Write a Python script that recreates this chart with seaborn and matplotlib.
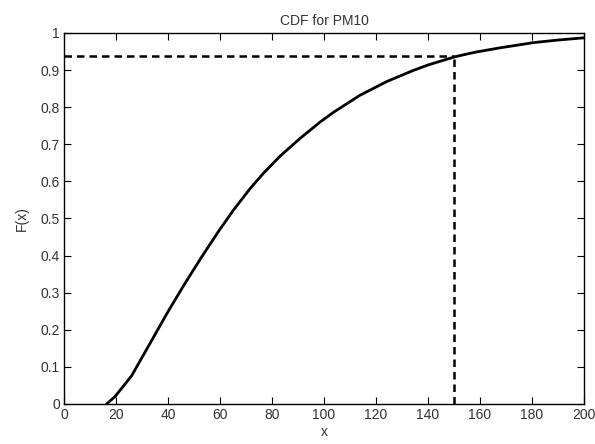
import matplotlib
matplotlib.use("Agg")
import matplotlib.pyplot as plt
import seaborn as sns
import pandas as pd

# valeurs
x_vals = [16.4, 19.6, 26.0, 32.4, 39.5, 45.9, 53.0, 59.4, 65.1, 71.5, 76.7, 83.1,
          90.8, 98.5, 103.6, 113.8, 124.1, 134.3, 140.1, 150.4, 158.0, 167.7, 180.5,
          190.0, 200.0]
cdf_vals = [0.0, 0.02, 0.076, 0.155, 0.243, 0.318, 0.397, 0.465, 0.522, 0.580, 0.622, 0.668,
            0.716, 0.760, 0.786, 0.832, 0.869, 0.899, 0.914, 0.936, 0.948, 0.960, 0.974,
            0.981, 0.987]
x_mark = 150
f_mark = 0.937

df = pd.DataFrame({"x": x_vals, "F": cdf_vals})

sns.set_style("ticks")
plt.rcParams["font.family"] = ["Liberation Sans", "DejaVu Sans"]
plt.rcParams["xtick.direction"] = "in"
plt.rcParams["ytick.direction"] = "in"

fig = plt.figure(figsize=(5.95, 4.44), dpi=100)
ax = fig.add_axes([0.1076, 0.0901, 0.8739, 0.8356])

sns.lineplot(data=df, x="x", y="F", color="black", linewidth=2, ax=ax)
ax.plot([0, x_mark], [f_mark, f_mark], color="black", linestyle=(0, (3, 2)), linewidth=1.8)
ax.plot([x_mark, x_mark], [0, f_mark], color="black", linestyle=(0, (3, 2)), linewidth=1.8)

ax.set_xlim(0, 200)
ax.set_ylim(0, 1)
ax.set_xticks(range(0, 201, 20))
ax.set_yticks([i / 10 for i in range(11)])
ax.set_yticklabels(["0"] + [f"{i/10:g}" for i in range(1, 10)] + ["1"])
ax.tick_params(axis="both", which="both", top=True, right=True, length=5,
               labelsize=10, colors="black", labelcolor="#333333", pad=3)
for s in ax.spines.values():
    s.set_linewidth(1)
    s.set_color("black")

ax.set_title("CDF for PM10", fontsize=10, color="#333333", pad=6)
ax.set_xlabel("x", fontsize=10, color="#333333", labelpad=2)
ax.set_ylabel("F(x)", fontsize=10, color="#333333", labelpad=8)

fig.savefig("out.png", dpi=100)
